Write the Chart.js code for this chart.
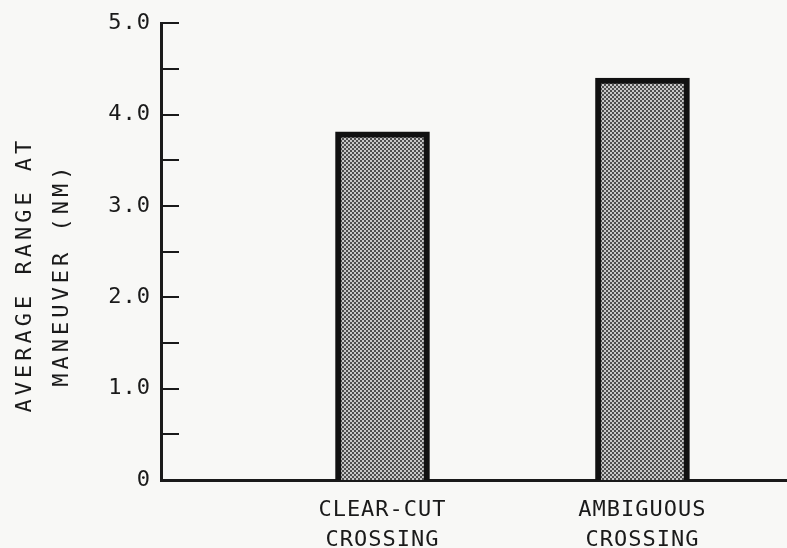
<!DOCTYPE html>
<html>
<head>
<meta charset="utf-8">
<script src="https://cdn.jsdelivr.net/npm/chart.js@4/dist/chart.umd.min.js"></script>
<style>
  html, body { margin: 0; padding: 0; background: #f8f8f6; }
  #wrap { width: 787px; height: 548px; }
</style>
</head>
<body>
<div id="wrap"><canvas id="chart-range"></canvas></div>
<script>
/* =====================
   DATA
===================== */

const categories = [['CLEAR-CUT', 'CROSSING'], ['AMBIGUOUS', 'CROSSING']];
const categoryPos = [1, 2];
const avgRange = [3.81, 4.4];
const yTitle = ['AVERAGE RANGE AT', 'MANEUVER (NM)'];

const FONT = "'DejaVu Sans Mono', 'Liberation Mono', monospace";
const INK = '#1a1a1a';

/* =====================
   STIPPLE FILL
===================== */

function stipple() {
    const c = document.createElement('canvas');
    c.width = 4; c.height = 4;
    const g = c.getContext('2d');
    g.fillStyle = '#c8c8c8';
    g.fillRect(0, 0, 4, 4);
    g.fillStyle = '#4e4e4e';
    g.fillRect(0, 0, 2, 2);
    g.fillRect(2, 2, 2, 2);
    return g.createPattern(c, 'repeat');
}

/* =====================
   PLUGINS
===================== */

const paperPlugin = {
    id: 'paper',
    beforeDraw(chart) {
        const ctx = chart.ctx;
        ctx.save();
        ctx.fillStyle = '#f8f8f6';
        ctx.fillRect(0, 0, chart.width, chart.height);
        ctx.restore();
        ctx.letterSpacing = '1px';
    }
};

// short tick marks on the inside of the y axis
const innerTicks = {
    id: 'innerTicks',
    afterDatasetsDraw(chart) {
        const ctx = chart.ctx;
        const y = chart.scales.y;
        const left = chart.chartArea.left;
        ctx.save();
        ctx.strokeStyle = INK;
        ctx.lineWidth = 2;
        y.ticks.forEach(t => {
            if (t.value <= 0) return;
            const py = Math.round(y.getPixelForValue(t.value));
            ctx.beginPath();
            ctx.moveTo(left - 1, py);
            ctx.lineTo(left + 18, py);
            ctx.stroke();
        });
        ctx.restore();
    }
};

// two-line, widely spaced y axis title
const yTitlePlugin = {
    id: 'yTitle',
    afterDraw(chart) {
        const ctx = chart.ctx;
        const area = chart.chartArea;
        const cy = (area.top + area.bottom) / 2 + 25;
        const xs = [25, 62];
        ctx.save();
        ctx.letterSpacing = '4px';
        ctx.font = "22px " + FONT;
        ctx.fillStyle = INK;
        ctx.textAlign = 'center';
        ctx.textBaseline = 'middle';
        yTitle.forEach((line, i) => {
            ctx.save();
            ctx.translate(xs[i], cy);
            ctx.rotate(-Math.PI / 2);
            ctx.fillText(line, 2, 0);
            ctx.restore();
        });
        ctx.restore();
    }
};

/* =====================
   CREATE CHART
===================== */

const ctx = document.getElementById('chart-range').getContext('2d');

const chartR = new Chart(ctx, {
    type: 'bar',
    data: {
        datasets: [{
            data: categoryPos.map((x, i) => ({ x: x, y: avgRange[i] })),
            backgroundColor: stipple(),
            borderColor: '#111',
            borderWidth: 6,
            borderSkipped: 'bottom',
            barThickness: 94
        }]
    },
    options: {
        responsive: true,
        maintainAspectRatio: false,
        animation: false,
        layout: { padding: { top: 21, left: 0, right: 0, bottom: 0 } },
        plugins: {
            legend: { display: false },
            tooltip: { enabled: false }
        },
        scales: {
            x: {
                type: 'linear',
                offset: false,
                min: 0.148,
                max: 2.556,
                grid: { display: false, drawTicks: false, offset: false },
                border: { display: true, color: INK, width: 3 },
                afterBuildTicks: s => { s.ticks = categoryPos.map(v => ({ value: v })); },
                afterFit: s => { s.height = 68; },
                ticks: {
                    padding: 15,
                    autoSkip: false,
                    maxRotation: 0,
                    color: INK,
                    font: { family: FONT, size: 22, lineHeight: 1.36 },
                    callback: (v, i) => categories[i]
                }
            },
            y: {
                min: 0,
                max: 5,
                grid: { display: false, drawTicks: false },
                border: { display: true, color: INK, width: 3 },
                afterFit: s => { s.width = 161; },
                ticks: {
                    stepSize: 0.5,
                    padding: 10,
                    color: INK,
                    font: { family: FONT, size: 22 },
                    callback: v => v === 0 ? '0' : (Number.isInteger(v) ? v.toFixed(1) : '')
                }
            }
        }
    },
    plugins: [paperPlugin, innerTicks, yTitlePlugin]
});
</script>
</body>
</html>
